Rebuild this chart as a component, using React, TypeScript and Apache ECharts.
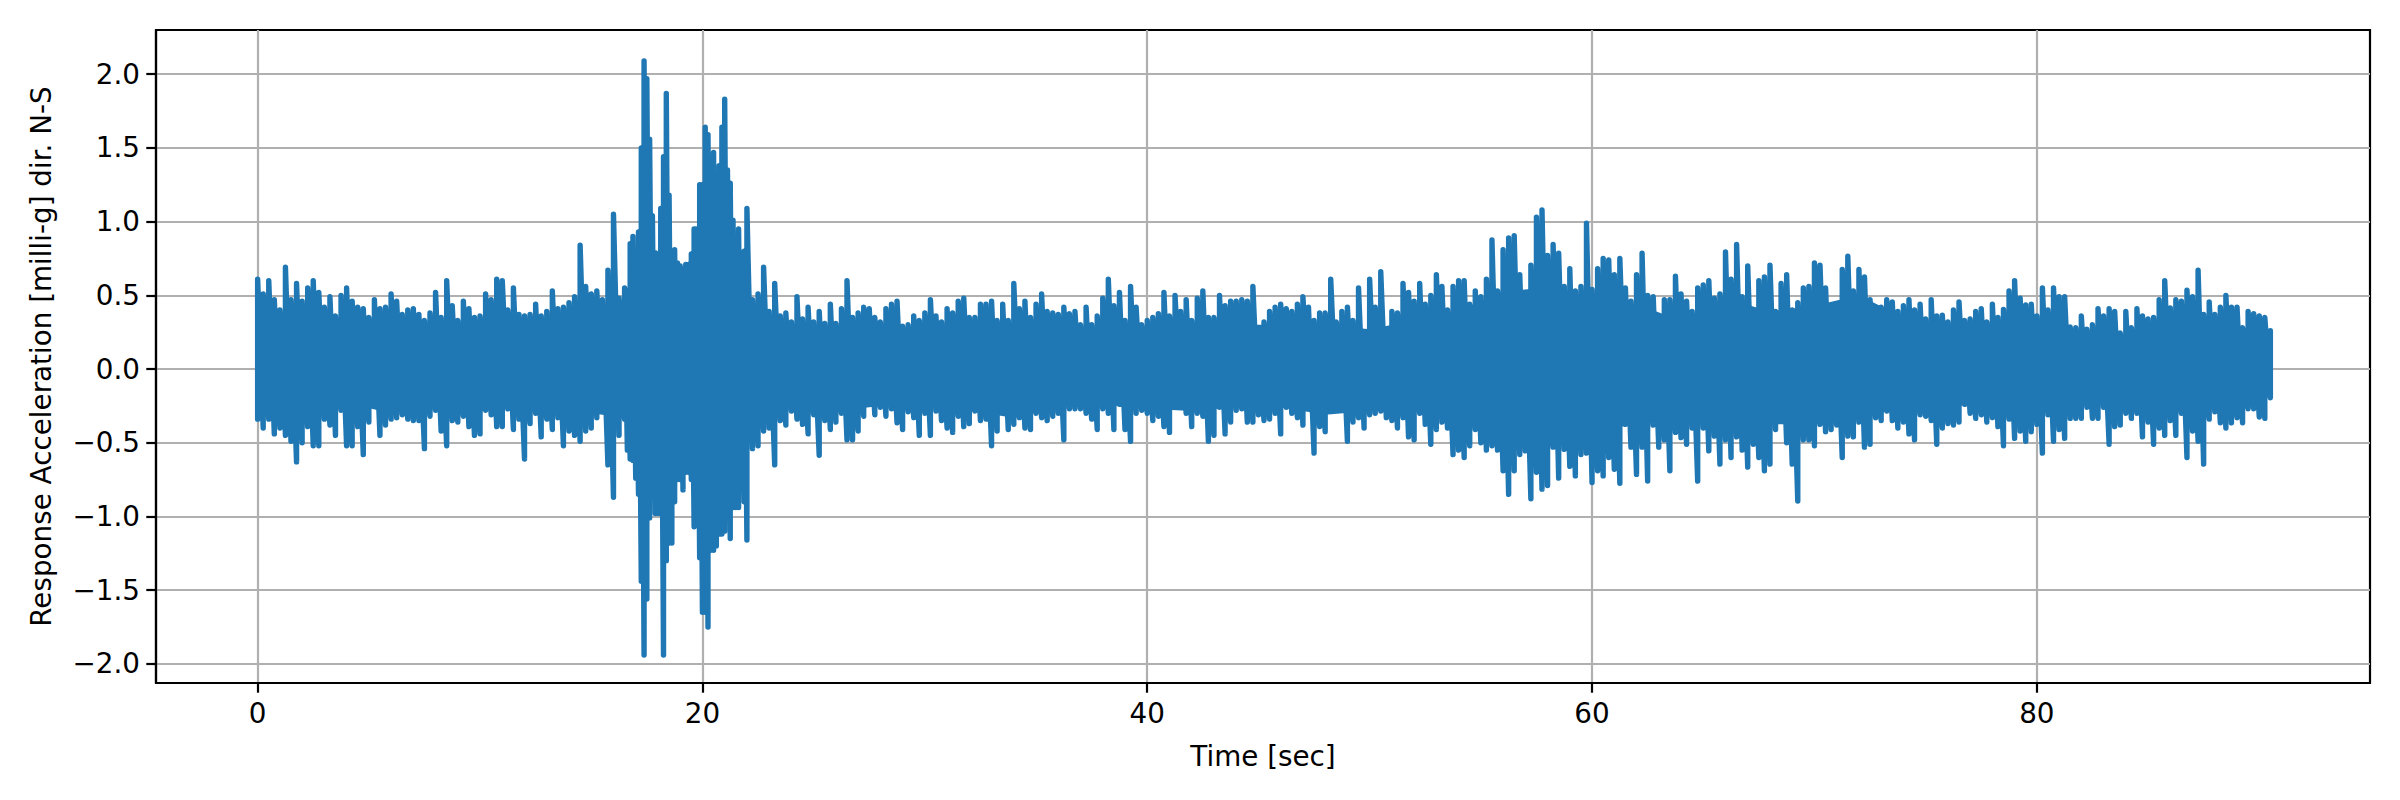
import { useEffect, useRef } from "react";
import * as echarts from "echarts";

// envelope of the record: one high and one low per column
const hi0 = [.61,.51,.60,.47,.40,.69,.47,.58,.46,.55,.60,.52,.42,.49,.36,.50,.55,.46,.42,.41,.35,.47,.41,.42,.51,.46,.37,.40,.41,.37,.33,.38,.52,.35,.60,.43,.33,.46,.41,.35,.36,.51,.47,.61];
const lo0 = [-.34,-.40,-.34,-.44,-.40,-.45,-.49,-.63,-.50,-.39,-.52,-.52,-.34,-.38,-.45,-.28,-.52,-.52,-.39,-.58,-.36,-.24,-.45,-.38,-.34,-.33,-.31,-.34,-.35,-.35,-.54,-.32,-.28,-.42,-.52,-.35,-.36,-.32,-.39,-.45,-.44,-.28,-.31,-.39];
const hi11 = [.60,.40,.55,.37,.36,.37,.44,.36,.39,.53,.41,.42,.45,.49,.84,.56,.51,.53,.47,.67,1.05,.48];
const lo11 = [-.39,-.27,-.41,-.34,-.61,-.37,-.30,-.46,-.34,-.41,-.33,-.52,-.42,-.45,-.49,-.42,-.40,-.33,-.27,-.65,-.87,-.45];
const hiBurst = [.55,.53,.85,.90,.65,.93,1.50,2.09,1.97,1.56,1.04,.79,.78,1.09,1.44,1.87,1.18,.68,.81,.72,.70,.67,.71,.71,.78,.95,.95,1.25,1.25,1.64,1.59,1.28,1.47,1.05,1.38,1.64,1.83,1.35,1.26,1.01,.90,.95,.78,.80,1.09];
const loBurst = [-.34,-.55,-.61,-.62,-.74,-.85,-1.44,-1.94,-1.56,-1.01,-.83,-.98,-.98,-.73,-1.94,-1.30,-1.18,-1.18,-.90,-.75,-.75,-.82,-.70,-.70,-.75,-1.07,-.85,-1.28,-1.65,-1.65,-1.75,-1.23,-1.23,-1.20,-1.12,-1.12,-1.10,-1.00,-1.15,-.94,-.94,-.94,-.82,-.90,-1.16];
const hi22 = [.47,.51,.69,.39,.58,.36,.38,.32,.49,.34,.42,.32,.39,.31,.44,.31,.41,.60,.35,.38,.42,.41,.35,.32,.41,.44,.46,.29,.30,.36,.33,.38,.47,.36,.32,.41,.38,.46,.48,.35,.35,.44,.44,.46,.33];
const lo22 = [-.54,-.52,-.42,-.40,-.65,-.35,-.38,-.285,-.34,-.375,-.44,-.31,-.585,-.35,-.41,-.36,-.30,-.48,-.48,-.42,-.32,-.24,-.31,-.26,-.32,-.27,-.365,-.41,-.29,-.33,-.45,-.30,-.45,-.285,-.35,-.40,-.43,-.32,-.39,-.37,-.285,-.35,-.34,-.52,-.42];
const hi33 = [.44,.33,.58,.41,.46,.35,.44,.51,.39,.38,.37,.42,.375,.39,.30,.42,.30,.36,.48,.61,.43,.52,.33,.56,.42,.30,.33,.35,.375,.52,.36,.50,.39,.47,.33,.48,.53,.35,.35,.50,.43,.46,.46,.47,.46];
const lo33 = [-.285,-.41,-.375,-.33,-.40,-.41,-.30,-.33,-.35,-.32,-.30,-.48,-.27,-.27,-.27,-.30,-.34,-.41,-.27,-.30,-.41,-.24,-.41,-.49,-.30,-.28,-.30,-.35,-.32,-.39,-.43,-.26,-.235,-.30,-.39,-.30,-.32,-.49,-.45,-.26,-.44,-.36,-.28,-.27,-.36];
const hi44 = [.56,.26,.32,.39,.42,.44,.41,.39,.44,.49,.42,.33,.38,.38,.61,.32,.39,.42,.33,.55,.235,.61,.42,.66,.25,.39,.38,.58,.52,.46,.58,.44,.50,.64,.56,.40,.56,.60,.60,.44,.53,.49,.61,.875,.53];
const lo44 = [-.36,-.31,-.35,-.34,-.30,-.44,-.26,-.30,-.33,-.38,-.15,-.57,-.39,-.425,-.27,-.27,-.27,-.49,-.36,-.33,-.40,-.31,-.30,-.285,-.33,-.35,-.40,-.33,-.46,-.48,-.30,-.375,-.51,-.41,-.36,-.40,-.58,-.55,-.60,-.52,-.41,-.50,-.55,-.52,-.55];
const hi56 = [.81,.89,.905,.64,.48,.705,1.03,1.08,.77,.845,.785,.56,.68,.53,.56,.99,.54,.68,.75,.74,.64,.75,.55,.46,.64,.785,.50,.49,.35,.47,.47,.63,.51,.46,.39,.55,.57,.60,.48,.51,.795,.61,.845,.49,.70];
const lo56 = [-.69,-.85,-.69,-.58,-.555,-.88,-.70,-.815,-.79,-.53,-.74,-.545,-.66,-.725,-.58,-.57,-.77,-.69,-.725,-.60,-.68,-.775,-.375,-.53,-.715,-.53,-.76,-.38,-.53,-.48,-.69,-.43,-.465,-.51,-.40,-.76,-.40,-.555,-.455,-.645,-.48,-.60,-.46,-.55,-.665];
const hi67 = [.38,.60,.625,.705,.39,.58,.64,.40,.45,.55,.56,.72,.705,.55,.38,.41,.675,.765,.53,.675,.625,.47,.42,.42,.47,.455,.39,.43,.47,.40,.44,.34,.47,.36,.365,.32,.40,.455,.33,.34,.39,.41,.32,.44,.35];
const lo67 = [-.51,-.60,-.69,-.645,-.41,-.31,-.50,-.645,-.895,-.48,-.48,-.52,-.375,-.425,-.41,-.38,-.60,-.455,-.46,-.36,-.53,-.51,-.33,-.35,-.285,-.35,-.40,-.36,-.44,-.48,-.31,-.32,-.35,-.51,-.40,-.37,-.38,-.36,-.24,-.30,-.335,-.31,-.36,-.33,-.39];
const hi78 = [.405,.53,.60,.48,.435,.44,.36,.55,.40,.55,.49,.49,.285,.28,.36,.27,.30,.41,.36,.41,.39,.245,.39,.28,.41,.36,.34,.35,.47,.60,.415,.47,.46,.535,.49,.67,.37,.455,.37,.42,.50,.42,.42,.28,.39,.375,.36,.35,.26];
const lo78 = [-.52,-.34,-.47,-.42,-.49,-.425,-.375,-.57,-.31,-.49,-.41,-.47,-.335,-.335,-.335,-.26,-.335,-.335,-.26,-.51,-.39,-.38,-.30,-.335,-.30,-.46,-.36,-.51,-.40,-.45,-.35,-.45,-.30,-.60,-.42,-.49,-.645,-.34,-.29,-.365,-.40,-.365,-.33,-.365,-.27,-.27,-.325,-.335,-.195];

// the signal is so dense that the middle prints solid: edges of that solid part
const solidTimes = [0,2,4,6,8,10,12,14,15,16,16.5,17,18,19,20,21,21.8,22.2,23,24,26,28,30,32,34,36,38,40,42,44,46,48,50,52,54,56,58,60,62,64,66,68,70,72,74,76,78,80,82,84,86,88,90,90.5];
const solidTop = [.38,.36,.33,.28,.28,.29,.30,.30,.33,.36,.45,.55,.62,.60,.72,.85,.60,.34,.30,.29,.28,.28,.27,.29,.25,.28,.28,.26,.29,.30,.30,.30,.27,.33,.39,.53,.55,.46,.44,.33,.48,.39,.43,.50,.35,.28,.30,.30,.25,.235,.325,.31,.26,.20];
const solidBottom = [-.30,-.285,-.23,-.30,-.26,-.285,-.26,-.31,-.30,-.32,-.34,-.60,-.65,-.62,-.75,-.85,-.70,-.33,-.30,-.25,-.285,-.25,-.23,-.285,-.33,-.26,-.24,-.27,-.285,-.26,-.26,-.31,-.285,-.285,-.35,-.42,-.53,-.42,-.375,-.35,-.375,-.375,-.375,-.33,-.26,-.26,-.22,-.285,-.22,-.26,-.285,-.26,-.22,-.18];

const xTicks = [0, 20, 40, 60, 80];
const yTicks = [-2, -1.5, -1, -0.5, 0, 0.5, 1, 1.5, 2];

// [start time, seconds per column, highs, lows]
const stretches: [number, number, number[], number[]][] = [
  [0, 0.25, hi0, lo0],
  [11, 0.25, hi11, lo11],
  [16.5, 0.125, hiBurst, loBurst],
  [22.25, 0.25, hi22, lo22],
  [33.5, 0.25, hi33, lo33],
  [44.75, 0.25, hi44, lo44],
  [56, 0.25, hi56, lo56],
  [67.25, 0.25, hi67, lo67],
  [78.5, 0.25, hi78, lo78],
];

const BLUE = "#1f77b4";
const GRID = "#b0b0b0";
const FONT = "DejaVu Sans";
const TEXT_SIZE = 27.8;

export default function App() {
  const containerRef = useRef<HTMLDivElement>(null);

  useEffect(() => {
    if (!containerRef.current) return;
    const chart = echarts.init(containerRef.current, undefined, { renderer: "svg" });

    const points: [number, number][] = [];
    stretches.forEach(([start, step, highs, lows]) => {
      highs.forEach((h, i) => {
        const t = start + i * step;
        points.push([t, lows[i]]);
        points.push([t, h]);
      });
    });

    const band = (values: number[]) => ({
      type: "line",
      data: solidTimes.map((t, i) => [t, values[i]]),
      showSymbol: false,
      symbol: "none",
      silent: true,
      lineStyle: { width: 0 },
      areaStyle: { color: BLUE, opacity: 1 },
    });

    chart.setOption({
      animation: false,
      backgroundColor: "#ffffff",
      grid: {
        left: 156,
        right: 30,
        top: 30,
        bottom: 117,
        show: true,
        borderColor: "#000000",
        borderWidth: 2.2,
      },
      xAxis: {
        type: "value",
        min: -4.57,
        max: 94.98,
        name: "Time [sec]",
        nameLocation: "middle",
        nameGap: 59,
        nameTextStyle: { color: "#000000", fontFamily: FONT, fontSize: TEXT_SIZE },
        axisLine: { onZero: false, lineStyle: { color: "#000000", width: 2.2 } },
        axisTick: { length: 9.7, lineStyle: { color: "#000000", width: 2.2 }, customValues: xTicks },
        axisLabel: { color: "#000000", fontFamily: FONT, fontSize: TEXT_SIZE, margin: 16, customValues: xTicks },
        splitLine: { show: true, lineStyle: { color: GRID, width: 2.2 } },
      },
      yAxis: {
        type: "value",
        min: -2.13,
        max: 2.3,
        name: "Response Acceleration [milli-g] dir. N-S",
        nameLocation: "middle",
        nameGap: 101,
        nameTextStyle: { color: "#000000", fontFamily: FONT, fontSize: TEXT_SIZE },
        axisLine: { onZero: false, lineStyle: { color: "#000000", width: 2.2 } },
        axisTick: { length: 9.7, lineStyle: { color: "#000000", width: 2.2 }, customValues: yTicks },
        axisLabel: {
          color: "#000000",
          fontFamily: FONT,
          fontSize: TEXT_SIZE,
          margin: 16,
          customValues: yTicks,
          formatter: (v: number) => v.toFixed(1).replace("-", "\u2212"),
        },
        splitLine: { show: true, lineStyle: { color: GRID, width: 2.2 } },
      },
      series: [
        band(solidTop),
        band(solidBottom),
        {
          type: "line",
          data: points,
          showSymbol: false,
          symbol: "none",
          silent: true,
          lineStyle: { color: BLUE, width: 5.4, join: "round", cap: "round" },
        },
      ],
    });

    return () => chart.dispose();
  }, []);

  return (
    <div
      ref={containerRef}
      style={{ position: "absolute", left: 0, top: 0, width: 2400, height: 800 }}
    />
  );
}
